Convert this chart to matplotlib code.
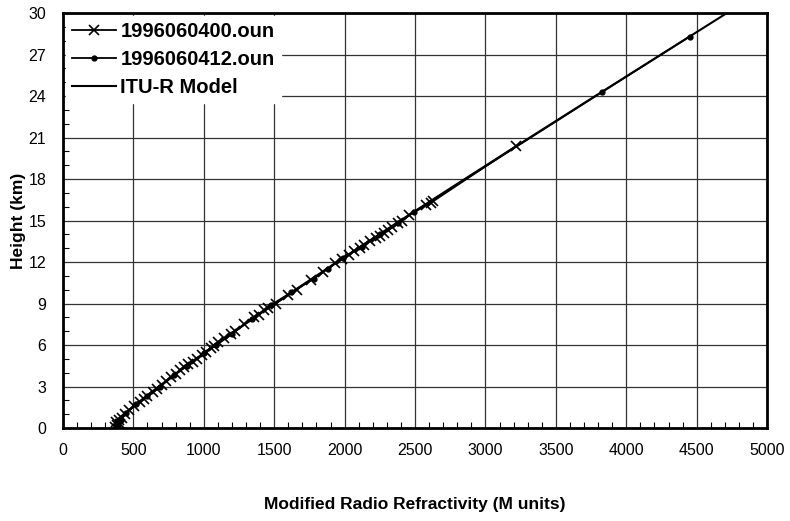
import numpy as np
import matplotlib.pyplot as plt
from matplotlib.ticker import MultipleLocator

plt.rcParams['font.family'] = ['Liberation Sans', 'DejaVu Sans']

# 1996060400.oun  (M units, height km)
m_00 = [372, 385, 378, 395, 405, 420, 440, 470, 505, 545, 575, 600, 640, 665, 700,
        735, 770, 800, 830, 860, 890, 920, 950, 985, 1015, 1050, 1075, 1100, 1145,
        1190, 1220, 1285, 1355, 1390, 1430, 1455, 1510, 1600, 1660, 1760, 1850,
        1930, 1980, 2030, 2070, 2110, 2140, 2180, 2220, 2250, 2280, 2310, 2340,
        2380, 2410, 2460, 2580, 2610, 2630, 3220]
h_00 = [0.1, 0.25, 0.4, 0.55, 0.3, 0.7, 1.0, 1.3, 1.6, 1.9, 2.1, 2.3, 2.6, 2.8, 3.1,
        3.4, 3.7, 3.9, 4.2, 4.4, 4.6, 4.8, 5.0, 5.3, 5.5, 5.8, 5.9, 6.2, 6.5,
        6.8, 7.0, 7.5, 8.0, 8.2, 8.5, 8.7, 9.0, 9.6, 10.0, 10.7, 11.3,
        11.9, 12.2, 12.5, 12.8, 13.0, 13.2, 13.5, 13.7, 13.9, 14.1, 14.3, 14.5,
        14.8, 15.0, 15.4, 16.1, 16.3, 16.4, 20.4]

# 1996060412.oun
m_12 = [380, 390, 410, 450, 520, 600, 690, 790, 880, 1000, 1090, 1200, 1340, 1480,
        1620, 1780, 1880, 1990, 2120, 2250, 2380, 2490, 3830, 4450]
h_12 = [0.1, 0.35, 0.6, 1.1, 1.7, 2.3, 3.0, 3.8, 4.5, 5.4, 6.0, 6.8, 7.9, 8.9,
        9.8, 10.8, 11.5, 12.3, 13.1, 14.0, 14.8, 15.6, 24.3, 28.3]

# ITU-R Model
m_itu = [373, 432, 554, 680, 811, 944, 1081, 1362, 1651, 1946, 2396, 2853,
         3315, 3780, 4247, 4715]
h_itu = [0.5, 1, 2, 3, 4, 5, 6, 8, 10, 12, 15, 18, 21, 24, 27, 30]

fig = plt.figure(figsize=(7.9, 5.21), dpi=100)
ax = fig.add_axes([0.0797, 0.1785, 0.8913, 0.7965])

ax.plot(m_00, h_00, color='black', lw=1.3, marker='x', ms=7, mew=1.2,
        label='1996060400.oun', zorder=3)
ax.plot(m_12, h_12, color='black', lw=1.3, marker='o', ms=3.5,
        label='1996060412.oun', zorder=3)
ax.plot(m_itu, h_itu, color='black', lw=1.5, label='ITU-R Model', zorder=4)

ax.set_xlim(0, 5000)
ax.set_ylim(0, 30)
ax.xaxis.set_major_locator(MultipleLocator(500))
ax.xaxis.set_minor_locator(MultipleLocator(100))
ax.yaxis.set_major_locator(MultipleLocator(3))
ax.yaxis.set_minor_locator(MultipleLocator(1))
ax.grid(True, which='major', color='#333333', lw=0.9)
ax.set_axisbelow(True)
ax.tick_params(which='major', direction='in', length=0, labelsize=11.5)
ax.tick_params(axis='x', which='major', pad=11)
ax.tick_params(axis='y', which='major', pad=12)
ax.tick_params(which='minor', direction='in', length=4, width=0.8)
for s in ax.spines.values():
    s.set_linewidth(2)

ax.set_xlabel('Modified Radio Refractivity (M units)', fontsize=12.5,
              fontweight='bold', labelpad=28)
ax.set_ylabel('Height (km)', fontsize=12.5, fontweight='bold', labelpad=2)

leg = ax.legend(loc='upper left', frameon=True, fancybox=False, framealpha=1,
                edgecolor='white', prop={'weight': 'bold', 'size': 14.5},
                handlelength=2.2, borderaxespad=0.15, labelspacing=0.45,
                handletextpad=0.2, borderpad=0.3)

plt.savefig('out.png', dpi=100)
